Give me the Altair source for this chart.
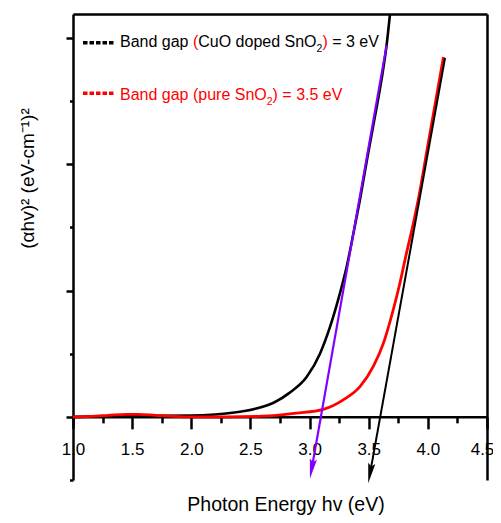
import math
import altair as alt
import pandas as pd

FONT = "Liberation Sans"

# ---- data ----
cuo_x = [1.0, 1.25, 1.5, 1.75, 2.0, 2.2, 2.33, 2.45, 2.55, 2.7, 2.83, 2.975,
         3.088, 3.172, 3.257, 3.314, 3.37, 3.426, 3.49, 3.553, 3.61, 3.652, 3.68]
cuo_y = [0.0, 0.004, 0.008, 0.008, 0.01, 0.019, 0.03, 0.046, 0.066, 0.114, 0.19, 0.315,
         0.50, 0.71, 0.98, 1.19, 1.45, 1.72, 2.06, 2.38, 2.68, 2.95, 3.19]

pure_x = [1.0, 1.15, 1.3, 1.45, 1.55, 1.7, 1.85, 2.0, 2.3, 2.6, 2.89, 3.116,
          3.285, 3.426, 3.539, 3.623, 3.708, 3.764, 3.82, 3.877, 3.919, 4.0, 4.132]
pure_y = [0.0, 0.004, 0.012, 0.02, 0.02, 0.012, 0.004, 0.0, 0.0, 0.005, 0.03, 0.06,
          0.135, 0.24, 0.40, 0.58, 0.85, 1.06, 1.30, 1.53, 1.72, 2.15, 2.85]

tan_cuo_x = [3.652, 3.003]
tan_cuo_y = [2.945, -0.49]
tan_pure_x = [4.145, 3.496]
tan_pure_y = [2.842, -0.525]

x_ticks = [1.0, 1.25, 1.5, 1.75, 2.0, 2.25, 2.5, 2.75, 3.0, 3.25, 3.5, 3.75, 4.0, 4.25, 4.5]
y_ticks = [-0.5, 0.0, 0.5, 1.0, 1.5, 2.0, 2.5, 3.0]

legend1_text = ["Band gap ", "(", "CuO doped SnO", "2", ")", " = 3 eV"]
legend1_color = ["black", "red", "black", "black", "red", "black"]
legend1_sub = [False, False, False, True, False, False]
legend2_text = ["Band gap (pure SnO", "2", ") = 3.5 eV"]
legend2_color = ["red", "red", "red"]
legend2_sub = [False, True, False]

x_title = "Photon Energy hv (eV)"
y_title = "(αhv)² (eV-cm⁻¹)²"

# ---- layout ----
W, H = 414, 466
XDOM = [1.0, 4.5]
YDOM = [-0.5, 3.19]
sx = W / (XDOM[1] - XDOM[0])
sy = H / (YDOM[1] - YDOM[0])
RED = "#ff0000"
PURPLE = "#8000ff"

xs = alt.Scale(domain=XDOM, nice=False, zero=False)
ys = alt.Scale(domain=YDOM, nice=False, zero=False)

x_axis = alt.Axis(
    values=x_ticks, orient="bottom", offset=-(0 - YDOM[0]) * sy,
    domainColor="black", domainWidth=2.5,
    tickColor="black", tickWidth=2.5,
    tickSize={"condition": {"test": "datum.value % 0.5 === 0", "value": 12}, "value": 6},
    labelExpr="datum.value % 0.5 === 0 ? format(datum.value, '.1f') : ''",
    labelOffset={"condition": {"test": "datum.value === 4.5", "value": -5}, "value": 0},
    labelFont=FONT, labelFontSize=17, labelColor="black", labelPadding=26,
    labelBaseline="alphabetic", labelFlush=False, labelOverlap=False,
    title=x_title, titleFont=FONT, titleFontSize=19.5, titleFontWeight="normal",
    titleColor="black", titleX=212.5, titleY=94, titleBaseline="alphabetic",
    titleAlign="center", grid=False,
)
y_axis = alt.Axis(
    values=y_ticks, orient="left", labels=False,
    domainColor="black", domainWidth=2.5,
    tickColor="black", tickWidth=2.5,
    tickSize={"condition": {"test": "datum.value % 1 === 0", "value": 7}, "value": 3.5},
    title=y_title, titleFont=FONT, titleFontSize=19, titleFontWeight="normal",
    titleColor="black", titleX=-40, titleY=164, titleAngle=270,
    titleBaseline="alphabetic", titleAlign="center", grid=False,
)
x_top = alt.Axis(orient="top", labels=False, ticks=False, title=None, grid=False,
                 domainColor="black", domainWidth=2.5)
y_right = alt.Axis(orient="right", labels=False, ticks=False, title=None, grid=False,
                   domainColor="black", domainWidth=2.5)


def line_df(xv, yv):
    return pd.DataFrame({"x": xv, "y": yv, "i": list(range(len(xv)))})


def curve(xv, yv, color, width, axes=False):
    ch = alt.Chart(line_df(xv, yv)).mark_line(
        color=color, strokeWidth=width, interpolate="monotone")
    return ch.encode(
        x=alt.X("x:Q", scale=xs, axis=x_axis if axes else None),
        y=alt.Y("y:Q", scale=ys, axis=y_axis if axes else None),
        order="i:Q",
    )


frame = alt.Chart(line_df(cuo_x, cuo_y)).mark_line(strokeOpacity=0).encode(
    x=alt.X("x:Q", scale=xs, axis=x_top),
    y=alt.Y("y:Q", scale=ys, axis=y_right),
)


def arrow(xv, yv, color, width):
    tx, ty = xv[1], yv[1]
    dxp = (tx - xv[0]) * sx
    dyp = (yv[0] - ty) * sy
    L = math.hypot(dxp, dyp)
    ux, uy = dxp / L, dyp / L
    head_half = 10.0
    cx = tx - head_half * ux / sx
    cy = ty + head_half * uy / sy
    ang = math.degrees(math.atan2(-ux, uy)) % 360
    ln = curve([xv[0], cx], [yv[0], cy], color, width)
    head = alt.Chart(pd.DataFrame({"x": [cx], "y": [cy]})).mark_point(
        shape="M -0.36 -1 L 0 1 L 0.36 -1 L 0 -0.7 Z", size=400, filled=True,
        color=color, opacity=1, strokeWidth=0, angle=ang,
    ).encode(x=alt.X("x:Q", scale=xs, axis=None), y=alt.Y("y:Q", scale=ys, axis=None))
    return [ln, head]


# ---- legend (annotation) ----
AW = {'B': 667, 'a': 556, 'n': 556, 'd': 556, ' ': 278, 'g': 556, 'p': 556, '(': 333,
      ')': 333, 'C': 722, 'u': 556, 'O': 778, 'o': 556, 'e': 556, 'S': 667, '2': 556,
      '=': 584, '3': 556, 'V': 667, 'r': 333, '.': 278, '5': 556}


def text_w(s, fs):
    return sum(AW.get(c, 556) for c in s) * fs / 1000.0


one = pd.DataFrame({"k": [0]})


def legend_row(texts, colors, subs, x0, base, dash_color, dash_y):
    layers = [alt.Chart(one).mark_rule(color=dash_color, strokeWidth=3.5,
                                       strokeDash=[4.5, 2]).encode(
        x=alt.value(10), x2=alt.value(42), y=alt.value(dash_y))]
    x = x0
    for t, c, sb in zip(texts, colors, subs):
        fs = 10.5 if sb else 16
        yy = base + 5 if sb else base
        col = RED if c == "red" else "black"
        lead = t[:len(t) - len(t.lstrip())]
        x += text_w(lead, fs)
        body = t.lstrip()
        layers.append(alt.Chart(one).mark_text(
            align="left", baseline="alphabetic", font=FONT, fontSize=fs, color=col,
            text=body).encode(x=alt.value(x), y=alt.value(yy)))
        x += text_w(body, fs)
    return layers


layers = [frame,
          curve(cuo_x, cuo_y, "black", 2.6, axes=True),
          curve(pure_x, pure_y, RED, 2.8)]
layers += arrow(tan_pure_x, tan_pure_y, "black", 2.0)
layers += arrow(tan_cuo_x, tan_cuo_y, PURPLE, 2.2)
layers += legend_row(legend1_text, legend1_color, legend1_sub, 47, 33.3, "black", 28.7)
layers += legend_row(legend2_text, legend2_color, legend2_sub, 47, 86.3, RED, 79.3)

chart = alt.layer(*layers).resolve_axis(x="independent", y="independent").properties(
    width=W, height=H, autosize="none",
    padding={"left": 65, "top": 6, "right": 6, "bottom": 35},
).configure_view(stroke=None)

chart.save("out.html", embed_options={"renderer": "svg", "actions": False})
